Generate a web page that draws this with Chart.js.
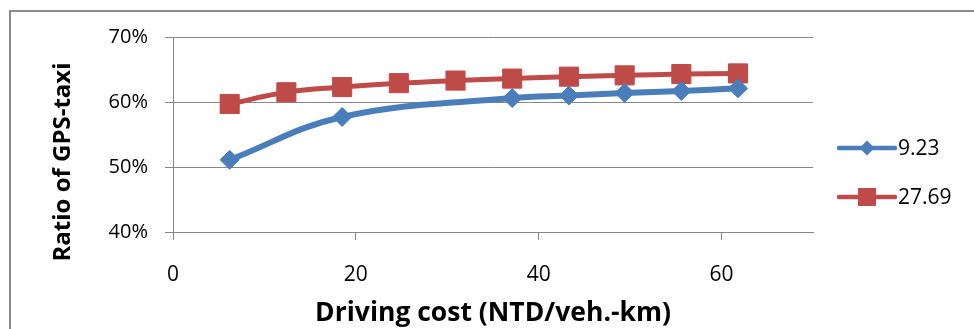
<!DOCTYPE html>
<html>
<head>
<meta charset="utf-8">
<script src="https://cdn.jsdelivr.net/npm/chart.js@4/dist/chart.umd.min.js"></script>
<style>
  html, body { margin: 0; padding: 0; background: #fff; }
  #wrap { position: relative; width: 974px; height: 329px; overflow: hidden; }
  #frame { position: absolute; left: 9px; top: 10px; right: -4px; bottom: -4px;
           border-top: 2px solid #8a8a8a; border-left: 2px solid #8a8a8a; }
  #c { position: absolute; left: 0; top: 0; }
</style>
</head>
<body>
<div id="wrap">
  <div id="frame"></div>
  <canvas id="c" width="974" height="329"></canvas>
</div>
<script>
// Series "9.23"
const costLow = [6.2, 18.5, 37.1, 43.3, 49.4, 55.6, 61.8];
const ratioLow = [51.1, 57.7, 60.6, 61.0, 61.4, 61.7, 62.1];

// Series "27.69"
const costHigh = [6.2, 12.4, 18.5, 24.7, 30.9, 37.1, 43.3, 49.4, 55.6, 61.8];
const ratioHigh = [59.7, 61.5, 62.3, 62.9, 63.3, 63.6, 63.9, 64.1, 64.3, 64.4];

const seriesLabels = ['9.23', '27.69'];
const xTicks = [0, 20, 40, 60];
const yTicks = [40, 50, 60, 70];

const xTitle = 'Driving cost (NTD/veh.-km)';
const yTitle = 'Ratio of GPS-taxi';

const BLUE = '#4a7ebb';
const RED = '#be4b48';
const AXIS = '#868686';

Chart.defaults.font.family = "'Open Sans', 'DejaVu Sans', sans-serif";
Chart.defaults.color = '#000';

const toPoints = (xs, ys) => xs.map((x, i) => ({ x: x, y: ys[i] }));

// Rotated y-axis title, centred on the full left band of the chart
const yTitlePlugin = {
  id: 'yTitle',
  afterDraw(chart) {
    const ctx = chart.ctx;
    ctx.save();
    ctx.font = "bold 24px 'Open Sans', sans-serif";
    ctx.fillStyle = '#000';
    ctx.textAlign = 'center';
    ctx.textBaseline = 'middle';
    ctx.translate(63, 162);
    ctx.rotate(-Math.PI / 2);
    ctx.fillText(yTitle, 0, 0);
    ctx.restore();
  }
};

// Legend on the right: line segment with the series marker, then the label
const sideLegend = {
  id: 'sideLegend',
  afterDraw(chart) {
    const ctx = chart.ctx;
    const x0 = 839, x1 = 895, rows = [148, 197];
    chart.data.datasets.forEach((ds, i) => {
      const y = rows[i];
      const xm = (x0 + x1) / 2;
      ctx.save();
      ctx.strokeStyle = ds.borderColor;
      ctx.lineWidth = 4.5;
      ctx.lineCap = 'round';
      ctx.beginPath();
      ctx.moveTo(x0, y);
      ctx.lineTo(x1, y);
      ctx.stroke();
      ctx.fillStyle = ds.pointBackgroundColor;
      ctx.beginPath();
      if (ds.pointStyle === 'rectRot') {
        const r = 7.5;
        ctx.moveTo(xm - r, y);
        ctx.lineTo(xm, y - r);
        ctx.lineTo(xm + r, y);
        ctx.lineTo(xm, y + r);
        ctx.closePath();
      } else {
        const h = 9;
        ctx.rect(xm - h, y - h, 2 * h, 2 * h);
      }
      ctx.fill();
      ctx.fillStyle = '#000';
      ctx.font = "21px 'Open Sans', sans-serif";
      ctx.textAlign = 'left';
      ctx.textBaseline = 'middle';
      ctx.fillText(ds.label, 898, y + 1);
      ctx.restore();
    });
  }
};

new Chart(document.getElementById('c'), {
  type: 'line',
  data: {
    datasets: [
      {
        label: seriesLabels[0],
        data: toPoints(costLow, ratioLow),
        borderColor: BLUE,
        borderWidth: 6,
        tension: 0.4,
        pointStyle: 'rectRot',
        pointRadius: 9.5,
        pointBackgroundColor: BLUE,
        pointBorderColor: BLUE,
        pointBorderWidth: 1
      },
      {
        label: seriesLabels[1],
        data: toPoints(costHigh, ratioHigh),
        borderColor: RED,
        borderWidth: 5,
        tension: 0.4,
        pointStyle: 'rect',
        pointRadius: 13.5,
        pointBackgroundColor: RED,
        pointBorderColor: RED,
        pointBorderWidth: 1
      }
    ]
  },
  options: {
    responsive: false,
    animation: false,
    events: [],
    layout: { padding: { left: 0, top: 37, right: 161, bottom: 0 } },
    plugins: {
      legend: { display: false },
      tooltip: { enabled: false }
    },
    scales: {
      x: {
        type: 'linear',
        min: 0,
        max: 70,
        afterFit: s => { s.height = 97; },
        afterBuildTicks: s => { s.ticks = xTicks.map(v => ({ value: v })); },
        ticks: { font: { size: 21 }, padding: 22, color: '#000' },
        grid: { drawOnChartArea: false, drawTicks: true, tickLength: 8, color: AXIS },
        border: { color: AXIS, width: 1 },
        title: {
          display: true,
          text: xTitle,
          font: { size: 26.5, weight: 'bold' },
          color: '#000',
          padding: { top: 0, bottom: 0 }
        }
      },
      y: {
        min: 40,
        max: 70,
        afterFit: s => { s.width = 173; },
        afterBuildTicks: s => { s.ticks = yTicks.map(v => ({ value: v })); },
        ticks: { font: { size: 20 }, padding: 17, color: '#000', callback: v => v + '%' },
        grid: { drawOnChartArea: true, drawTicks: true, tickLength: 8, color: AXIS },
        border: { color: AXIS, width: 1 }
      }
    }
  },
  plugins: [yTitlePlugin, sideLegend]
});
</script>
</body>
</html>
